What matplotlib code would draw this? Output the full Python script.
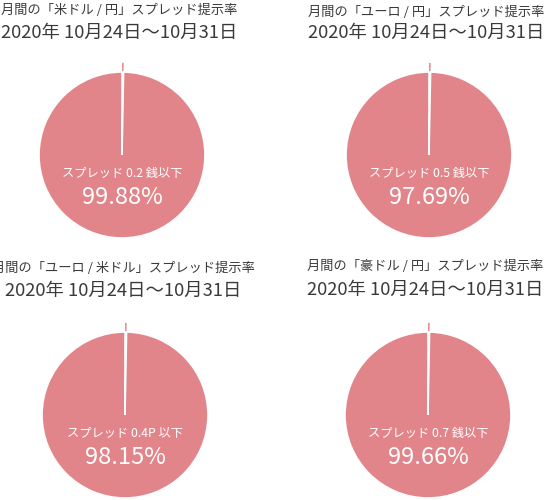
import matplotlib.pyplot as plt

plt.rcParams['font.family'] = ['Noto Sans CJK JP', 'DejaVu Sans']

# データ
titles = ['月間の「米ドル / 円」スプレッド提示率',
          '月間の「ユーロ / 円」スプレッド提示率',
          '月間の「ユーロ / 米ドル」スプレッド提示率',
          '月間の「豪ドル / 円」スプレッド提示率']
periodo = '2020年 10月24日～10月31日'
spreads = ['スプレッド 0.2 銭以下', 'スプレッド 0.5 銭以下',
           'スプレッド 0.4P 以下', 'スプレッド 0.7 銭以下']
taxas = [99.88, 97.69, 98.15, 99.66]
# fatia fina desenhada no grafico (igual nos quatro)
fatia = [0.3, 0.3, 0.3, 0.3]

# posicoes em pixels (x, y a partir do topo)
centros = [(122, 155), (429, 155), (125, 415), (428, 415)]
titulo_x = [119, 426, 123, 425]
titulo_y = [(11, 33), (12, 33), (268, 291), (267, 290)]
raio = 83

cor = '#e2858a'
cor_texto = '#3a3a3a'
H = 500

fig = plt.figure(figsize=(5.5, 5), dpi=100)
ax = fig.add_axes([0, 0, 1, 1])

for i in range(4):
    cx, cy = centros[i]
    fatias, _ = ax.pie([fatia[i], 100 - fatia[i]], colors=[cor, cor],
                       startangle=90, counterclock=False,
                       explode=[0.11 * raio, 0], center=(cx, H - cy),
                       radius=raio)
    fatias[0].set_edgecolor('none')
    fatias[1].set_edgecolor('white')
    fatias[1].set_linewidth(1.2)
    ax.text(cx, H - cy - 18, spreads[i], color='white', fontsize=8.8,
            ha='center', va='center')
    ax.text(cx, H - cy - 43, f'{taxas[i]:.2f}%', color='white', fontsize=17,
            ha='center', va='center')
    y1, y2 = titulo_y[i]
    ax.text(titulo_x[i], H - y1, titles[i], color=cor_texto, fontsize=9.5,
            ha='center', va='center')
    ax.text(titulo_x[i], H - y2, periodo, color=cor_texto, fontsize=13.2,
            ha='center', va='center')

ax.set_xlim(0, 550)
ax.set_ylim(0, H)
ax.set_aspect('equal')
ax.axis('off')

plt.savefig('out.png', dpi=100)
